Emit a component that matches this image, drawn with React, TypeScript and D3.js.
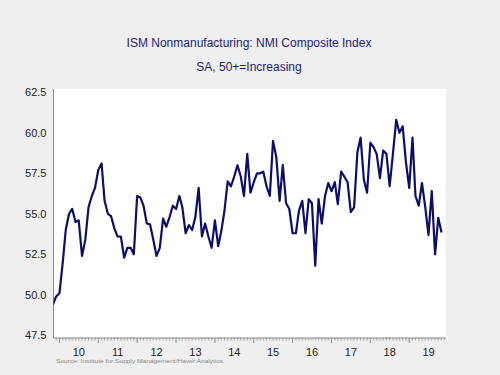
import React from "react";
import * as d3 from "d3";

const v2009 = [49.4, 49.9];
const v2010 = [50.1, 52.0, 54.0, 55.0, 55.3, 54.5, 54.6, 52.4, 53.4, 55.4, 56.1, 56.6];
const v2011 = [57.7, 58.1, 55.8, 55.0, 54.85, 54.1, 53.6, 53.6, 52.3, 52.9, 52.9, 52.5];
const v2012 = [56.1, 56.0, 55.5, 54.4, 54.35, 53.4, 52.4, 52.9, 54.7, 54.2, 54.8, 55.5];
const v2013 = [55.3, 56.1, 55.4, 53.8, 54.3, 54.0, 54.8, 56.6, 53.6, 54.4, 53.6, 52.9];
const v2014 = [54.6, 53.0, 53.9, 55.2, 57.0, 56.7, 57.3, 58.0, 57.3, 56.1, 58.7, 56.3];
const v2015 = [56.95, 57.5, 57.5, 57.6, 56.7, 56.1, 59.5, 58.5, 55.8, 58.0, 55.65, 55.3];
const v2016 = [53.8, 53.8, 55.2, 55.8, 53.8, 55.9, 55.65, 51.8, 55.9, 54.4, 56.1, 56.9];
const v2017 = [56.4, 56.95, 55.6, 57.6, 57.3, 56.95, 55.1, 55.4, 58.8, 59.7, 57.1, 56.3];
const v2018 = [59.4, 59.1, 58.7, 57.2, 58.9, 58.7, 56.7, 58.7, 60.8, 60.0, 60.4, 58.2];
const v2019 = [56.6, 59.7, 56.1, 55.5, 56.9, 55.4, 53.7, 56.4, 52.5, 54.75, 53.85];

const yTicks = [47.5, 50.0, 52.5, 55.0, 57.5, 60.0, 62.5];
const yearLabels = ["10", "11", "12", "13", "14", "15", "16", "17", "18", "19"];
const yearNums = [2010, 2011, 2012, 2013, 2014, 2015, 2016, 2017, 2018, 2019];

const title = "ISM Nonmanufacturing: NMI Composite Index";
const subtitle = "SA, 50+=Increasing";
const source = "Source:  Institute for Supply Management/Haver Analytics";

export default function App() {
  const values = [
    ...v2009, ...v2010, ...v2011, ...v2012, ...v2013, ...v2014,
    ...v2015, ...v2016, ...v2017, ...v2018, ...v2019,
  ];
  const dates = d3.timeMonths(new Date(2009, 10, 1), new Date(2019, 11, 1));
  const data = values.map((v, i) => ({ date: dates[i], value: v }));

  const plotL = 53.5, plotR = 445.7, plotT = 89, plotB = 338;
  const x = d3.scaleTime()
    .domain([new Date(2009, 10, 6), new Date(2019, 11, 10)])
    .range([plotL, plotR]);
  const y = d3.scaleLinear().domain([47.5, 62.5]).range([335.3, 92.3]);

  const line = d3.line<{ date: Date; value: number }>()
    .x((d) => x(d.date))
    .y((d) => y(d.value));

  const monthTicks = d3.timeMonths(new Date(2009, 11, 1), new Date(2019, 11, 2));
  const navy = "#0d0d6b";

  return (
    <svg width={500} height={375} style={{ position: "absolute", left: 0, top: 0 }}
      fontFamily="'Liberation Sans', Arial, sans-serif">
      <rect x={0} y={0} width={500} height={375} fill="#efefef" />
      <defs>
        <clipPath id="plotclip">
          <rect x={plotL} y={plotT} width={plotR - plotL} height={plotB - plotT} />
        </clipPath>
      </defs>
      <rect x={plotL} y={plotT} width={plotR - plotL} height={plotB - plotT} fill="#ffffff" />
      <text x={249} y={47} textAnchor="middle" fontSize={12} fill="#1c1c78">{title}</text>
      <text x={249} y={71} textAnchor="middle" fontSize={12} fill="#1c1c78">{subtitle}</text>

      {yTicks.map((t) => (
        <text key={t} x={46.5} y={y(t) + 4} textAnchor="end" fontSize={11} fill="#222">
          {t.toFixed(1)}
        </text>
      ))}

      <line x1={plotL} x2={plotL} y1={plotT} y2={plotB} stroke="#8a8a8a" strokeWidth={1} />
      <line x1={plotL} x2={plotR} y1={plotB} y2={plotB} stroke="#8a8a8a" strokeWidth={1} />
      {monthTicks.map((d, i) => {
        const major = d.getMonth() === 0;
        return (
          <line key={i} x1={x(d)} x2={x(d)} y1={plotB} y2={plotB + (major ? 5 : 2.5)}
            stroke="#8a8a8a" strokeWidth={major ? 1 : 0.7} />
        );
      })}
      {yearNums.map((yr, i) => (
        <text key={yr} x={x(new Date(yr, 6, 2))} y={356} textAnchor="middle" fontSize={11} fill="#222">
          {yearLabels[i]}
        </text>
      ))}
      <text x={56} y={362.5} fontSize={6.2} fill="#888" textLength={167} lengthAdjust="spacingAndGlyphs">
        {source}
      </text>

      <path d={line(data) || ""} fill="none" stroke={navy} strokeWidth={2.2}
        strokeLinejoin="round" clipPath="url(#plotclip)" />
    </svg>
  );
}
